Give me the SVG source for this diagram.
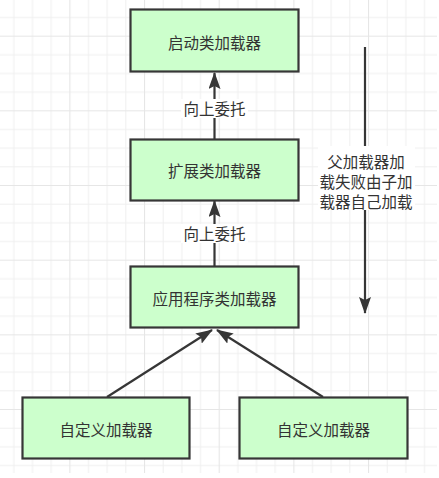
<svg xmlns="http://www.w3.org/2000/svg" width="439" height="478" viewBox="0 0 439 478">
  <style>
    .node rect { fill: #ccffcc; stroke: #363636; stroke-width: 2.2; }
    .node text, .lbl { font-family: "Noto Sans CJK SC", "Microsoft YaHei", sans-serif; font-size: 15.5px; fill: #333333; text-anchor: middle; dominant-baseline: central; }
    .edge { stroke: #363636; stroke-width: 2.2; fill: none; marker-end: url(#arr); }
    .lblbg { fill: #ffffff; }
  </style>
  <defs>
    <pattern id="grid" patternUnits="userSpaceOnUse" x="-5.33" y="35.67" width="74.67" height="74.67">
      <path d="M0.5,0 V74.67 M19.17,0 V74.67 M37.83,0 V74.67 M56.5,0 V74.67 M0,0.5 H74.67 M0,19.17 H74.67 M0,37.83 H74.67 M0,56.5 H74.67" stroke="#efefef" stroke-width="1" fill="none"/>
      <path d="M0.5,0 V74.67 M0,0.5 H74.67" stroke="#e6e6e6" stroke-width="1.2" fill="none"/>
    </pattern>
    <marker id="arr" markerUnits="userSpaceOnUse" viewBox="0 0 17 12" markerWidth="17" markerHeight="12" refX="16" refY="6" orient="auto">
      <path d="M0,0 L17,6 L0,12 L3,6 z" fill="#363636"/>
    </marker>
  </defs>
  <rect x="0" y="0" width="439" height="478" fill="#ffffff"/>
  <rect x="0" y="0" width="437" height="473" fill="url(#grid)"/>

  <g id="connectors">
    <line class="edge" x1="214.5" y1="139" x2="214.5" y2="73"/>
    <rect class="lblbg" x="181" y="99" width="67" height="19"/>
    <text class="lbl" x="214.5" y="108">向上委托</text>

    <line class="edge" x1="214.5" y1="266" x2="214.5" y2="201"/>
    <rect class="lblbg" x="181" y="224" width="67" height="19"/>
    <text class="lbl" x="214.5" y="233">向上委托</text>

    <line class="edge" x1="107" y1="397" x2="212" y2="330"/>
    <line class="edge" x1="323" y1="397" x2="217" y2="330"/>

    <line class="edge" x1="365" y1="47" x2="365" y2="313"/>
    <rect class="lblbg" x="318" y="146" width="97" height="64"/>
    <text class="lbl" x="366" y="161">父加载器加</text>
    <text class="lbl" x="366" y="181">载失败由子加</text>
    <text class="lbl" x="366" y="201">载器自己加载</text>
  </g>

  <g id="bootstrap" class="node">
    <rect x="130.5" y="9.5" width="168" height="62"/>
    <text x="214.5" y="42">启动类加载器</text>
  </g>
  <g id="extension" class="node">
    <rect x="130.5" y="139.5" width="168" height="61"/>
    <text x="214.5" y="170">扩展类加载器</text>
  </g>
  <g id="application" class="node">
    <rect x="130.5" y="266.5" width="168" height="61"/>
    <text x="214.5" y="298">应用程序类加载器</text>
  </g>
  <g id="custom1" class="node">
    <rect x="22.5" y="397.5" width="167" height="61"/>
    <text x="106" y="429">自定义加载器</text>
  </g>
  <g id="custom2" class="node">
    <rect x="239.5" y="397.5" width="168" height="61"/>
    <text x="323.5" y="429">自定义加载器</text>
  </g>
</svg>
